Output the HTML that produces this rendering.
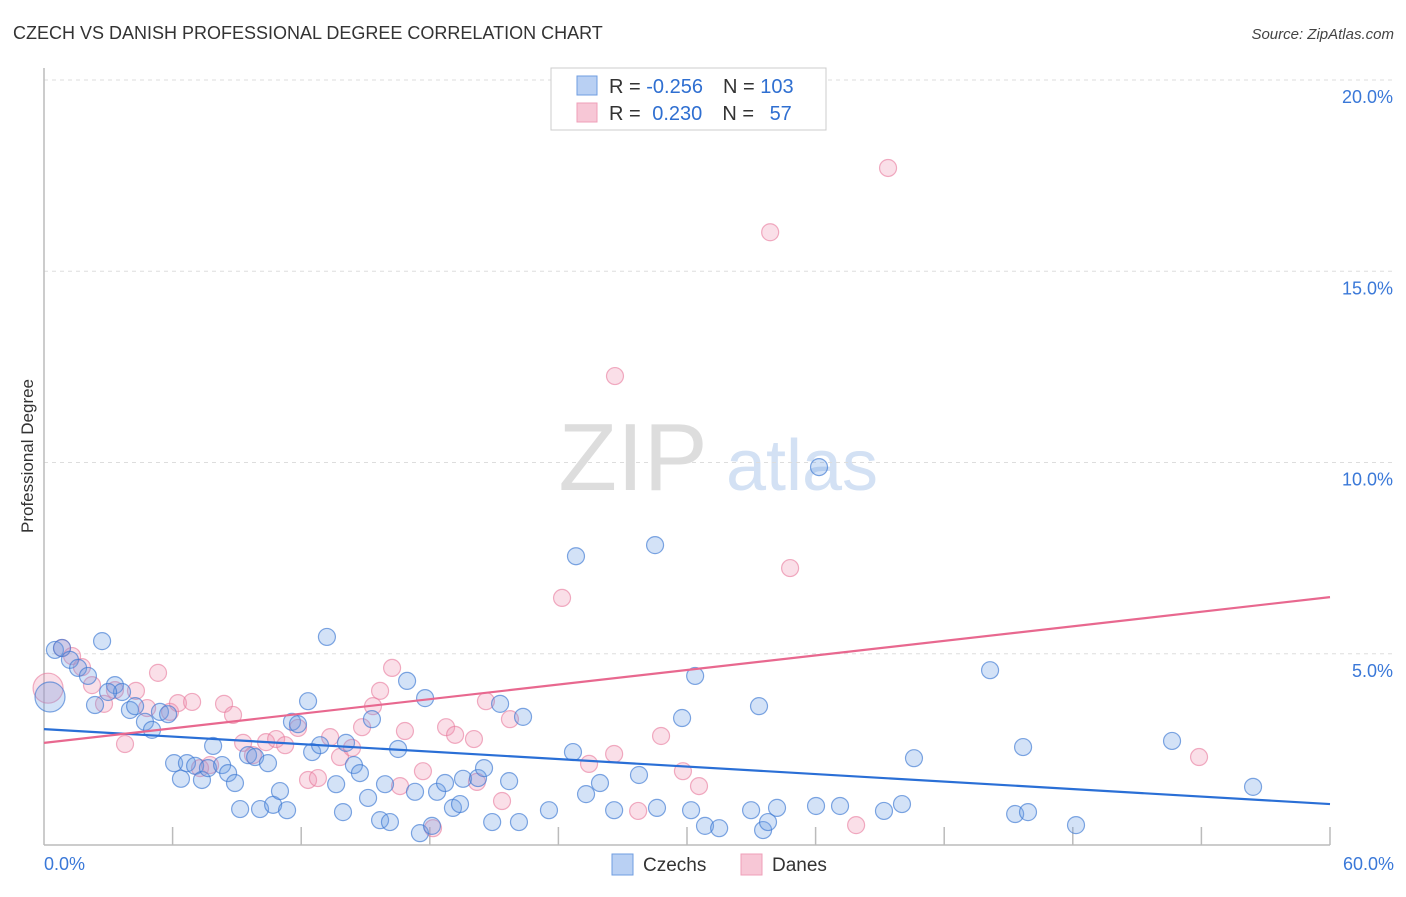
<!DOCTYPE html>
<html><head><meta charset="utf-8"><style>
body{margin:0;background:#fff;font-family:"Liberation Sans",sans-serif;}
svg text{font-family:"Liberation Sans",sans-serif;}
</style></head><body>
<svg id="chart" width="1406" height="892" viewBox="0 0 1406 892">
<text x="13" y="39" font-size="18" fill="#333">CZECH VS DANISH PROFESSIONAL DEGREE CORRELATION CHART</text>
<text x="1394" y="39" font-size="15" fill="#444" text-anchor="end" font-style="italic">Source: ZipAtlas.com</text>
<g>
<text x="633" y="490" font-size="96" fill="#ddd" text-anchor="middle" font-family="Liberation Serif, serif">ZIP</text>
<text x="802" y="490" font-size="72" fill="#d3e1f4" text-anchor="middle">atlas</text>
</g>
<g id="grid"></g>
<g id="axes"></g>
<g id="points"></g>
<g id="lines"></g>
<text transform="translate(33,456) rotate(-90)" font-size="17" fill="#333" text-anchor="middle">Professional Degree</text>
<g>
<rect x="551" y="68" width="275" height="62" fill="#fff" stroke="#ccc"/>
<rect x="577" y="76" width="20" height="19" fill="#b9d0f3" stroke="#6f9ee0"/>
<rect x="577" y="103" width="20" height="19" fill="#f7c7d6" stroke="#ef9fb8"/>
<text x="609" y="93" font-size="20" fill="#333">R = <tspan fill="#2f6fd1">-0.256</tspan><tspan dx="20" fill="#333">N = </tspan><tspan fill="#2f6fd1">103</tspan></text>
<text x="609" y="120" font-size="20" fill="#333">R = <tspan dx="6" fill="#2f6fd1">0.230</tspan><tspan dx="20" fill="#333">N = </tspan><tspan dx="10" fill="#2f6fd1">57</tspan></text>
</g>
<g>
<rect x="612" y="854" width="21" height="21" fill="#b9d0f3" stroke="#6f9ee0"/>
<text x="643" y="871" font-size="19" fill="#333">Czechs</text>
<rect x="741" y="854" width="21" height="21" fill="#f7c7d6" stroke="#ef9fb8"/>
<text x="772" y="871" font-size="19" fill="#333">Danes</text>
</g>
</svg>
<script>
const czechX=[0.51,0.28,0.84,1.21,1.59,2.05,2.71,2.38,3.31,3.64,2.99,4.01,4.25,4.71,5.04,5.41,5.79,6.07,6.39,6.67,7.05,7.37,7.65,7.89,8.31,8.59,8.91,9.15,9.52,9.85,10.08,10.45,10.69,11.01,11.34,11.57,11.85,12.32,12.51,12.88,13.2,13.63,13.95,14.09,14.46,14.74,15.12,15.3,15.68,15.91,16.14,16.52,16.94,17.31,17.54,17.78,18.1,18.34,18.71,19.08,19.41,19.55,20.25,20.53,20.91,21.28,21.7,22.16,22.35,23.56,24.68,24.82,25.29,25.94,26.6,27.76,28.51,28.6,29.77,30.19,30.38,30.84,31.5,32.99,33.36,33.55,33.78,34.2,36.02,36.16,37.14,39.19,40.03,40.59,44.14,45.31,45.91,45.68,48.15,52.63,56.41];
const czechY=[5.10,3.87,5.15,4.84,4.63,4.42,5.33,3.66,4.18,4.00,4.00,3.53,3.63,3.22,3.01,3.48,3.42,2.14,1.73,2.14,2.07,1.70,2.01,2.59,2.09,1.88,1.62,0.94,2.35,2.30,0.94,2.14,1.05,1.41,0.91,3.22,3.16,3.76,2.43,2.61,5.44,1.59,0.86,2.67,2.09,1.88,1.23,3.29,0.65,1.59,0.60,2.51,4.29,1.39,0.31,3.84,0.50,1.39,1.62,0.97,1.07,1.73,1.75,2.01,0.60,3.69,1.67,0.60,3.35,0.91,2.43,7.55,1.33,1.62,0.91,1.83,7.84,0.97,3.32,0.91,4.42,0.50,0.44,0.91,3.63,0.39,0.60,0.97,1.02,9.88,1.02,0.89,1.07,2.27,4.57,0.81,0.86,2.56,0.52,2.72,1.52];
const daneX=[0.19,0.84,1.31,1.77,2.24,2.8,3.31,3.78,4.29,4.81,5.32,5.88,6.25,6.91,7.28,7.75,8.4,8.82,9.29,9.75,10.36,10.83,11.25,11.85,12.32,12.78,13.35,13.81,14.37,14.84,15.35,15.68,16.24,16.61,16.84,17.68,18.15,18.76,19.18,20.06,20.2,20.62,21.37,21.74,24.17,25.43,26.64,26.6,27.72,28.79,29.81,30.56,33.88,34.81,37.89,39.38,53.89];
const daneY=[4.10,5.15,4.94,4.65,4.18,3.69,4.05,2.64,4.03,3.58,4.50,3.48,3.71,3.74,2.01,2.09,3.69,3.40,2.67,2.35,2.69,2.77,2.61,3.06,1.70,1.75,2.82,2.30,2.54,3.08,3.63,4.03,4.63,1.54,2.98,1.93,0.44,3.08,2.88,2.77,1.65,3.76,1.15,3.29,6.46,2.12,12.26,2.38,0.89,2.85,1.93,1.54,16.02,7.24,0.52,17.70,2.30];
const czechTrend=[3.03,1.07];
const daneTrend=[2.67,6.48];
const yTicks=[5,10,15,20];
const yTickLabels=["5.0%","10.0%","15.0%","20.0%"];
const xTicks=[6,12,18,24,30,36,42,48,54,60];
const xEndLabels=["0.0%","60.0%"];

const NS="http://www.w3.org/2000/svg";
const X0=44,X1=1330,Y0=845,PER=38.25;
const xs=v=>X0+(X1-X0)*v/60;
const ys=v=>Y0-v*PER;
function mk(tag,attrs,parent){const e=document.createElementNS(NS,tag);for(const k in attrs)e.setAttribute(k,attrs[k]);parent.appendChild(e);return e;}
const grid=document.getElementById('grid'),axes=document.getElementById('axes'),pts=document.getElementById('points'),lines=document.getElementById('lines');
yTicks.forEach((t,i)=>{
 const l=mk('line',{x1:X0,x2:1394,y1:ys(t),y2:ys(t),stroke:'#ddd','stroke-dasharray':'4,4'},grid);
 
 
 const tx=mk('text',{x:1393,y:ys(t)+23,'font-size':18,fill:'#3a78d8','text-anchor':'end'},axes);
 tx.textContent=yTickLabels[i];
 
 
});
const ya=mk('line',{x1:X0,x2:X0,y1:68,y2:Y0,stroke:'#bbb','stroke-width':1.5},axes);


const xa=mk('line',{x1:X0,x2:X1,y1:Y0,y2:Y0,stroke:'#bbb','stroke-width':1.5},axes);


xTicks.forEach(t=>{
 const tk=mk('line',{x1:xs(t),x2:xs(t),y1:Y0-18,y2:Y0,stroke:'#bbb','stroke-width':1.5},axes);
 
 
});
[[0,'start',44],[60,'end',1394]].forEach((d,i)=>{
 const tx=mk('text',{x:d[2],y:870,'font-size':18,fill:'#3a78d8','text-anchor':d[1]},axes);
 tx.textContent=xEndLabels[i];
 
 
});
function drawPts(X,Y,fill,stroke,name,bigIdx){
 X.forEach((x,i)=>{
  const r=(i===bigIdx)?15:8.5;
  const c=mk('circle',{cx:xs(x),cy:ys(Y[i]),r:r,fill:fill,stroke:stroke,'stroke-width':1.2},pts);
  
  
 });
}
drawPts(daneX,daneY,'rgba(240,150,180,0.3)','rgba(232,120,155,0.6)','dane-point',0);
drawPts(czechX,czechY,'rgba(110,160,230,0.3)','rgba(60,120,210,0.65)','czech-point',1);
const bl=mk('line',{x1:xs(0),x2:xs(60),y1:ys(czechTrend[0]),y2:ys(czechTrend[1]),stroke:'#2a6fd6','stroke-width':2.2},lines);


const pl=mk('line',{x1:xs(0),x2:xs(60),y1:ys(daneTrend[0]),y2:ys(daneTrend[1]),stroke:'#e8688f','stroke-width':2.2},lines);


</script>
</body></html>
